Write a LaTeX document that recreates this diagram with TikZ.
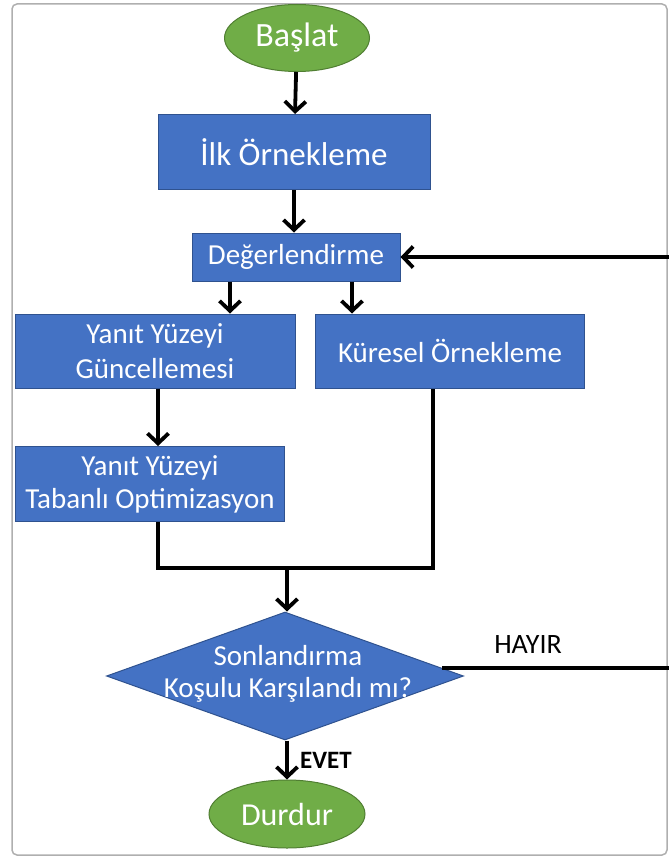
\documentclass[tikz,border=0pt]{standalone}
\usepackage{fontspec}
\setmainfont{Carlito}
\usetikzlibrary{shapes.geometric,arrows.meta,positioning}
\definecolor{akismavi}{RGB}{68,114,196}
\definecolor{akiskoyumavi}{RGB}{47,82,143}
\definecolor{akisyesil}{RGB}{112,173,71}
\definecolor{akiskoyuyesil}{RGB}{80,126,50}
\definecolor{akisgri}{RGB}{175,175,175}
\tikzset{
    kutu/.style={draw=akiskoyumavi, fill=akismavi, line width=1pt, text=white, align=center, inner sep=0pt},
    uc/.style={ellipse, draw=akiskoyuyesil, fill=akisyesil, line width=1pt, text=white, inner sep=0pt},
    karar/.style={diamond, draw=akiskoyumavi, fill=akismavi, line width=1pt, inner sep=0pt},
    ok/.style={line width=3.8pt, -{Straight Barb[length=10pt,width=21pt]}},
    hat/.style={line width=3.8pt},
    etiket/.style={text=black, inner sep=0pt}
}

\begin{document}
\begin{tikzpicture}[x=1pt, y=-1pt]
    \clip (0,0) rectangle (669,859);
    \draw[akisgri, line width=1.5pt, rounded corners=5pt] (12,4) rectangle (667,855);

    \node[uc, minimum width=145pt, minimum height=67pt, font=\fontsize{34}{40}\selectfont] (baslat) at (297,38) {Başlat};
    \node[kutu, minimum width=272pt, minimum height=75pt, font=\fontsize{33}{38}\selectfont] (ilk) at (294,152) {İlk Örnekleme};
    \node[kutu, minimum width=208pt, minimum height=48pt, font=\fontsize{29}{34}\selectfont] (deger) at (296,257) {Değerlendirme};
    \node[kutu, minimum width=280pt, minimum height=74pt, font=\fontsize{29}{35}\selectfont] (guncel) at (155,351) {Yanıt Yüzeyi\\Güncellemesi};
    \node[kutu, minimum width=269pt, minimum height=74pt, font=\fontsize{29}{35}\selectfont] (kuresel) at (450,351) {Küresel Örnekleme};
    \node[kutu, minimum width=269pt, minimum height=75pt, font=\fontsize{29}{33}\selectfont] (opt) at (150,484) {Yanıt Yüzeyi\\Tabanlı Optimizasyon};
    \node[karar, minimum width=357pt, minimum height=128pt] (kosul) at (285,676) {};
    \node[text=white, align=center, inner sep=0pt, font=\fontsize{29}{32}\selectfont] (kosulyazi) at (288,674) {Sonlandırma\\Koşulu Karşılandı mı?};
    \node[uc, minimum width=156pt, minimum height=68pt, font=\fontsize{32}{38}\selectfont] (durdur) at (287,814) {Durdur};
    \node[etiket, font=\fontsize{28}{32}\selectfont] (hayir) at (528,645) {HAYIR};
    \node[etiket, font=\fontsize{25}{30}\selectfont\bfseries] (evet) at (326,760) {EVET};

    \coordinate (birles) at (287,568);

    \draw[ok] (baslat) -- (ilk);
    \draw[ok] (ilk) -- (ilk |- deger.north);
    \draw[ok] ([xshift=-66pt]deger.south) -- ([xshift=-66pt]deger.south |- guncel.north);
    \draw[ok] ([xshift=56pt]deger.south) -- ([xshift=56pt]deger.south |- kuresel.north);
    \draw[ok] ([xshift=3pt]guncel.south) -- ([xshift=3pt]guncel.south |- opt.north);
    \draw[hat] ([xshift=8pt]opt.south) |- (birles) -| ([xshift=-17pt]kuresel.south);
    \draw[ok] (birles) -- (birles |- kosul.north);
    \draw[ok] (birles |- kosul.south) -- (durdur.north);
    \draw[ok] ([xshift=-22pt, yshift=8pt]kosul.east) -- ++(250,0) |- (deger.east);
\end{tikzpicture}
\end{document}
